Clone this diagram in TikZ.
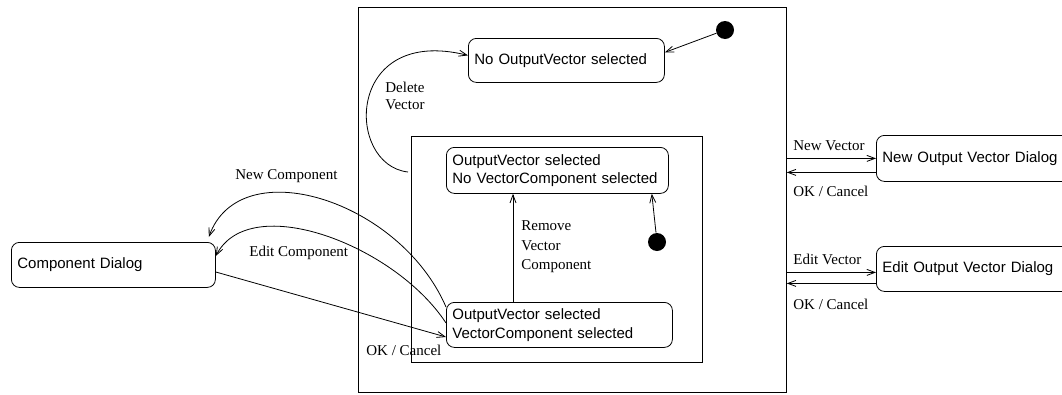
\documentclass[tikz,border=0pt]{standalone}
\usepackage{fontspec}
\setmainfont{Liberation Serif}
\newfontfamily\statefont{Liberation Sans}
\usetikzlibrary{arrows.meta}
\begin{document}
\begin{tikzpicture}[x=1pt, y=-1pt, line width=0.8pt,
  frame/.style={draw, anchor=north west, inner sep=0pt},
  state/.style={draw, rounded corners=8pt, anchor=north west, inner xsep=6pt,
    inner ysep=0pt, align=left, font=\statefont\fontsize{15}{18.5}\selectfont},
  lbl/.style={anchor=west, inner sep=0pt, align=left, font=\fontsize{15}{17}\selectfont},
  arr/.style={-{Straight Barb[length=8pt,width=6pt]}},
  startdot/.style={circle, fill, inner sep=0pt, minimum size=18pt}]

\useasboundingbox (0,0) rectangle (1062,394);
\clip (0,0) rectangle (1062,394);

% composite states
\node[frame, minimum width=428pt, minimum height=385pt] (outer) at (358,7) {};
\node[frame, minimum width=291pt, minimum height=226pt] (inner) at (411,136) {};

% simple states
\node[state, text width=184pt, minimum height=44pt] (nov) at (468,38) {No OutputVector selected};
\node[state, text width=210pt, minimum height=46pt] (ovs) at (446,147) {OutputVector selected\\No VectorComponent selected};
\node[state, text width=214pt, minimum height=45pt] (vcs) at (446,302) {OutputVector selected\\VectorComponent selected};
\node[state, text width=192pt, minimum height=45pt] (cd) at (11,242) {Component Dialog};
\node[state, text width=260pt, minimum height=46pt] (nvd) at (876,135) {New Output Vector Dialog};
\node[state, text width=260pt, minimum height=45pt] (evd) at (876,246) {Edit Output Vector Dialog};

% initial pseudo-states
\node[startdot] (init1) at (725,30) {};
\node[startdot] (init2) at (657,242) {};

% transitions inside the editor
\draw[arr] (init1) -- ([yshift=8pt]nov.east);
\draw[arr] (init2) -- ([xshift=-17pt]ovs.south east);
\draw[arr] ([xshift=67pt]vcs.north west) -- ([xshift=67pt]ovs.south west);
\draw[arr] ([xshift=-3pt,yshift=-36pt]inner.north west)
  .. controls (345,165) and (345,25) .. ([yshift=5pt]nov.west);

% component dialog transitions
\draw[arr] ([yshift=-5pt]vcs.north west)
  .. controls (400,200) and (240,150) .. ([xshift=-7pt,yshift=5pt]cd.north east);
\draw[arr] ([yshift=-21pt]vcs.north west)
  .. controls (395,245) and (250,190) .. ([yshift=-14pt]cd.north east);
\draw[arr] ([yshift=-30pt]cd.north east) -- ([yshift=-35pt]vcs.north west);

% vector dialog transitions
\coordinate (nvout) at ([yshift=-14pt]nvd.west);
\coordinate (evin) at ([yshift=-3.5pt]evd.west);
\coordinate (evout) at ([yshift=-14.5pt]evd.west);
\draw[arr] (outer.east |- nvd.west) -- (nvd.west);
\draw[arr] (nvout) -- (outer.east |- nvout);
\draw[arr] (outer.east |- evin) -- (evin);
\draw[arr] (evout) -- (outer.east |- evout);

% transition labels
\node[lbl] (ldel) at (385,96) {Delete\\Vector};
\node[lbl, font=\fontsize{15}{19.5}\selectfont] (lrem) at (521,247) {Remove\\Vector\\Component};
\node[lbl] (lnc) at (235,176) {New Component};
\node[lbl] (lec) at (249,253) {Edit Component};
\node[lbl] (lok) at (366,350) {OK / Cancel};
\node[lbl] (lnv) at (793,146) {New Vector};
\node[lbl] (lok2) at (793,191) {OK / Cancel};
\node[lbl] (lev) at (793,259) {Edit Vector};
\node[lbl] (lok3) at (793,304) {OK / Cancel};
\end{tikzpicture}
\end{document}
